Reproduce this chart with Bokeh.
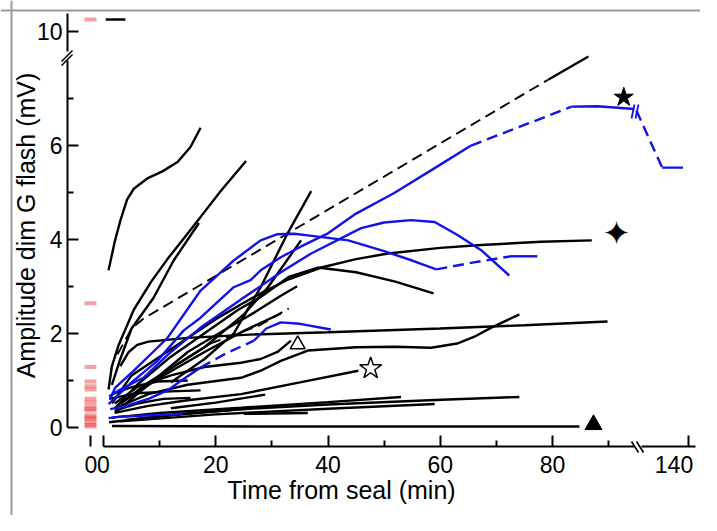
import math
from bokeh.plotting import figure
from bokeh.models import LinearAxis, FixedTicker, Range1d, Span
from bokeh.embed import file_html
from bokeh.resources import INLINE
from bokeh.core.properties import value

# ---------------- data (real units: minutes, mV) ----------------
# black recordings (solid parts)
k1_x = [0.9, 2.0, 3.0, 4.2, 5.4, 7.8, 10.5, 13.2, 15.5, 17.3]
k1_y = [3.34, 3.95, 4.4, 4.85, 5.08, 5.3, 5.45, 5.65, 5.97, 6.38]
k2_x = [0.9, 1.5, 2.7, 5.4, 8.5, 11.4, 14.5, 17.3, 21.0, 25.4]
k2_y = [0.8, 1.3, 1.75, 2.5, 3.1, 3.58, 4.05, 4.48, 5.05, 5.67]
k3_x = [1.5, 3.0, 5.0, 8.9, 12.5, 17.0]
k3_y = [0.9, 1.45, 2.1, 2.75, 3.55, 4.35]
k4_x = [12, 18, 23.2, 28, 32.8, 37]
k4_y = [0.95, 1.45, 1.99, 2.98, 4.13, 5.03]
k5_x = [10, 18, 25, 29.3, 35.2]
k5_y = [1.1, 1.7, 2.4, 2.98, 3.98]
k6_dash_x = [2.5, 5, 7.1, 79.3]
k6_dash_y = [1.55, 2.1, 2.31, 7.41]
k6_x = [79.3, 86.4]
k6_y = [7.41, 7.9]
k7_x = [1.5, 5, 10, 15, 20, 25, 28, 33, 38.8, 45, 50.7, 60, 67.3, 78, 87]
k7_y = [0.5, 1.1, 1.5, 1.9, 2.3, 2.65, 2.85, 3.15, 3.4, 3.58, 3.7, 3.82, 3.88, 3.95, 3.98]
k8_x = [2, 6, 12, 18, 24, 28, 33, 38.2, 45, 52, 58.8]
k8_y = [0.4, 0.9, 1.5, 2.0, 2.5, 2.77, 3.2, 3.4, 3.3, 3.1, 2.85]
k9_x = [3, 4.5, 6, 8, 15, 26, 40, 60, 75, 89.8]
k9_y = [1.3, 1.6, 1.75, 1.82, 1.9, 1.97, 2.02, 2.1, 2.17, 2.25]
k10_x = [2, 8, 15, 24.5, 28, 31.6, 36.4, 45, 52, 58.4, 63, 66, 69.1, 74.1]
k10_y = [0.4, 0.7, 0.9, 1.05, 1.2, 1.41, 1.63, 1.7, 1.71, 1.69, 1.78, 1.92, 2.12, 2.4]
k11_x = [2, 6, 12, 18, 24.5, 28, 31, 33.4]
k11_y = [0.5, 0.85, 1.1, 1.28, 1.37, 1.45, 1.6, 1.84]
k12_x = [2, 8, 15, 24.5, 35, 45.4]
k12_y = [0.3, 0.45, 0.57, 0.7, 0.95, 1.2]
k13_x = [12, 20, 28.8]
k13_y = [0.4, 0.52, 0.69]
k14_x = [1.5, 10, 24.5, 40, 53]
k14_y = [0.2, 0.3, 0.41, 0.53, 0.64]
k15_x = [1, 12, 24.5, 40, 60.2, 74.1]
k15_y = [0.1, 0.25, 0.38, 0.48, 0.58, 0.64]
k16_x = [25, 36.4]
k16_y = [0.28, 0.3]
k17_x = [3, 20, 40, 59]
k17_y = [0.12, 0.27, 0.39, 0.49]
k18_x = [1.5, 30, 60, 84.8]
k18_y = [0.02, 0.01, 0.01, 0.01]
k19_x = [3, 8, 14, 19]
k19_y = [0.5, 0.95, 1.4, 1.78]
k19_dash_x = [19, 27.7, 33]
k19_dash_y = [1.78, 2.16, 2.53]
k20_x = [1, 6, 12, 17.3]
k20_y = [0.6, 0.72, 0.76, 0.78]
k21_x = [1.5, 5, 9.6, 15]
k21_y = [0.7, 0.85, 0.97, 0.99]
k22_x = [2, 6, 10.7, 15.5]
k22_y = [0.35, 0.5, 0.6, 0.62]
k23_x = [4, 14, 22, 26.2]
k23_y = [0.15, 0.28, 0.35, 0.4]
k24_x = [2, 8, 15, 22, 27, 31.6, 34.5]
k24_y = [0.3, 0.9, 1.6, 2.1, 2.45, 2.8, 3.0]
k25_x = [3, 10, 18, 25, 31.6]
k25_y = [0.5, 1.05, 1.6, 2.05, 2.42]
k_top_x = [0.4, 3.9]
k_top_y = [10.25, 10.25]

black_solid = [(k1_x, k1_y), (k2_x, k2_y), (k3_x, k3_y), (k4_x, k4_y), (k5_x, k5_y),
               (k6_x, k6_y), (k7_x, k7_y), (k8_x, k8_y), (k9_x, k9_y), (k10_x, k10_y),
               (k11_x, k11_y), (k12_x, k12_y), (k13_x, k13_y), (k14_x, k14_y),
               (k15_x, k15_y), (k16_x, k16_y), (k17_x, k17_y), (k18_x, k18_y),
               (k19_x, k19_y), (k20_x, k20_y), (k21_x, k21_y), (k22_x, k22_y),
               (k23_x, k23_y), (k24_x, k24_y), (k25_x, k25_y), (k_top_x, k_top_y)]
black_dashed = [(k6_dash_x, k6_dash_y), (k19_dash_x, k19_dash_y)]

# blue recordings
b1_x = [0.9, 5, 9.6, 14.3, 17.3, 23.2, 26.2, 28, 31.6, 35.2, 40, 45, 51.8, 59, 65.5]
b1_y = [0.49, 0.95, 1.41, 2.06, 2.33, 2.98, 3.13, 3.34, 3.62, 3.85, 4.13, 4.55, 4.99, 5.52, 6.0]
b1_dash_x = [65.5, 83.4]
b1_dash_y = [6.0, 6.83]
b1b_x = [83.4, 88, 94.6]
b1b_y = [6.83, 6.84, 6.78]
b1_late_dash_x = [130.7, 135.3]
b1_late_dash_y = [6.75, 5.53]
b1_late_x = [135.3, 139.0]
b1_late_y = [5.53, 5.53]
b2_x = [1.2, 2.1, 5.4, 9.6, 11.4, 17.3, 20, 23.2, 28, 31, 34, 37.5, 43.6, 50, 55, 59.3]
b2_y = [0.6, 0.84, 1.2, 1.69, 1.9, 2.91, 3.2, 3.55, 3.98, 4.11, 4.12, 4.07, 3.98, 3.75, 3.55, 3.36]
b2_dash_x = [59.3, 66, 72.6]
b2_dash_y = [3.36, 3.51, 3.64]
b2b_x = [72.6, 77.3]
b2b_y = [3.64, 3.64]
b3_x = [1.0, 3.0, 7.1, 12, 17.3, 25, 31.6, 37, 45.9, 50, 54.8, 59, 63, 67.3, 72.3]
b3_y = [0.65, 0.8, 1.05, 1.6, 2.12, 2.76, 3.3, 3.7, 4.24, 4.36, 4.41, 4.37, 4.1, 3.77, 3.23]
b4_x = [1.2, 4, 8, 11.4, 14, 17.3]
b4_y = [0.38, 0.45, 0.6, 0.78, 1.0, 1.27]
b4_dash_x = [17.3, 22, 26.8]
b4_dash_y = [1.27, 1.58, 1.84]
b4b_x = [26.8, 29, 31.6, 35, 40.5]
b4b_y = [1.84, 2.1, 2.23, 2.2, 2.08]
b5_x = [0.9, 3, 8.4, 14.1]
b5_y = [0.19, 0.22, 0.25, 0.28]

blue_solid = [(b1_x, b1_y), (b1b_x, b1b_y), (b1_late_x, b1_late_y), (b2_x, b2_y),
              (b2b_x, b2b_y), (b3_x, b3_y), (b4_x, b4_y), (b4b_x, b4b_y), (b5_x, b5_y)]
blue_dashed = [(b1_dash_x, b1_dash_y), (b1_late_dash_x, b1_late_dash_y),
               (b2_dash_x, b2_dash_y), (b4_dash_x, b4_dash_y)]

# amplitudes at time 0 (red marks)
red_y = [10.25, 2.64, 1.28, 0.97, 0.87, 0.80, 0.60, 0.53, 0.44, 0.39, 0.35,
         0.25, 0.20, 0.17, 0.10, 0.05, 0.01]

# end-point symbols
star_x, star_y = [92.7], [7.03]
star4_x, star4_y = [91.4], [4.13]
otri_x, otri_y = [34.6], [1.76]
ostar_x, ostar_y = [47.6], [1.25]
ftri_x, ftri_y = [87.3], [0.05]

# axis ticks
x_major = [0, 20, 40, 60, 80]
x_minor = [10, 30, 50, 70, 90]
y_major = [0, 2, 4, 6]
y_minor = [1, 3, 5, 7]

# ---------------- broken-axis mapping ----------------
X_SHIFT = 140 - 104.25   # real 140 min drawn at 104.25
Y_SHIFT = 10 - 8.4375    # real 10 mV drawn at 8.4375


def fx(xs):
    return [x - X_SHIFT if x > 100 else x for x in xs]


def fy(ys):
    return [y - Y_SHIFT if y > 9 else y for y in ys]


# pixel helpers (window px -> data), scale: 5.6125 px/min, 46.9 px/mV
X0, XS = 103.0, 5.6125
Y0, YS = 426.5, 46.9
W, H = 700, 515


def px(v):
    return (v - X0) / XS


def py(v):
    return (Y0 - v) / YS


p = figure(width=W, height=H,
           x_range=Range1d(px(0), px(W)), y_range=Range1d(py(H), py(0)),
           output_backend="svg", toolbar_location=None,
           x_axis_location=None, y_axis_location=None, min_border=0,
           outline_line_color=None, background_fill_color="white")
p.grid.visible = False

FONT = "Liberation Sans"


def style(ax, standoff):
    ax.axis_line_width = 2
    ax.axis_line_color = "black"
    ax.major_tick_line_width = 2
    ax.minor_tick_line_width = 2
    ax.major_tick_in = 11
    ax.major_tick_out = 0
    ax.minor_tick_in = 6
    ax.minor_tick_out = 0
    ax.major_label_text_font = FONT
    ax.major_label_text_font_size = "23px"
    ax.major_label_text_color = "black"
    ax.major_label_standoff = standoff


YAX = px(67)
XAX = py(446)

ay1 = LinearAxis(fixed_location=YAX, bounds=(0, py(60)),
                 ticker=FixedTicker(ticks=y_major, minor_ticks=y_minor))
style(ay1, 5)
ay2 = LinearAxis(fixed_location=YAX, bounds=(py(51), py(13)),
                 ticker=FixedTicker(ticks=[8.4375], minor_ticks=[]))
style(ay2, 5)
ay2.major_label_overrides = {8.4375: "10"}
p.add_layout(ay1, "left")
p.add_layout(ay2, "left")

ax1 = LinearAxis(fixed_location=XAX, bounds=(0, px(634)),
                 ticker=FixedTicker(ticks=x_major, minor_ticks=x_minor))
style(ax1, 9)
ax0 = LinearAxis(fixed_location=XAX, bounds=(-2.3, -2.2),
                 ticker=FixedTicker(ticks=[-2.25], minor_ticks=[]))
style(ax0, 9)
ax0.axis_line_color = None
ax0.major_label_overrides = {-2.25: "0"}
ax2 = LinearAxis(fixed_location=XAX, bounds=(px(641), px(695)),
                 ticker=FixedTicker(ticks=[104.25], minor_ticks=[]))
style(ax2, 9)
ax2.major_label_overrides = {104.25: "140"}
for a in (ax1, ax0, ax2):
    p.add_layout(a, "below")

# axis break marks
brk = dict(line_color="black", line_width=1.6)
p.segment(x0=[px(61), px(61)], y0=[py(61), py(65)], x1=[px(72), px(72)], y1=[py(50), py(54)], **brk)
p.segment(x0=[px(631), px(636)], y0=[py(441), py(441)], x1=[px(638), px(643)], y1=[py(452), py(452)], **brk)

# red marks at time 0
RED = "#e82020"
n = len(red_y)
p.segment(x0=[px(84)] * n, y0=fy(red_y), x1=[px(96)] * n, y1=fy(red_y),
          line_color=RED, line_alpha=0.42, line_width=4)

BLACK = "black"
BLUE = "#1212e8"
LW = 2.4
for xs, ys in black_solid:
    p.line(fx(xs), fy(ys), line_color=BLACK, line_width=LW)
for xs, ys in black_dashed:
    p.line(fx(xs), fy(ys), line_color=BLACK, line_width=1.9, line_dash="11 6")
for xs, ys in blue_solid:
    p.line(fx(xs), fy(ys), line_color=BLUE, line_width=LW)
for xs, ys in blue_dashed:
    p.line(fx(xs), fy(ys), line_color=BLUE, line_width=LW, line_dash="11 6")

# break marks on the long blue recording
p.segment(x0=[px(631), px(635)], y0=[py(118), py(118)], x1=[px(634), px(638)], y1=[py(104), py(104)],
          line_color=BLUE, line_width=1.8)

# symbols
p.scatter(star_x, star_y, marker="star", size=20, fill_color="black", line_color="black")
p.scatter(ftri_x, ftri_y, marker="triangle", size=17, fill_color="black", line_color="black")
p.scatter(otri_x, otri_y, marker="triangle", size=15, fill_color=None, line_color="black", line_width=1.5)
p.scatter(ostar_x, ostar_y, marker="star", size=23, fill_color=None, line_color="black", line_width=1.5)
p.text(star4_x, star4_y, text=["\u2726"], text_font=value("DejaVu Sans"), text_font_size="34px",
       text_align="center", text_baseline="middle", text_color="black")

# axis titles
p.text([px(341)], [py(489)], text=["Time from seal (min)"], text_font=value(FONT),
       text_font_size="25px", text_align="center", text_baseline="middle", text_color="black")
p.text([px(25)], [py(225)], text=["Amplitude dim G flash (mV)"], text_font=value(FONT),
       text_font_size="25px", text_align="center", text_baseline="middle", text_color="black",
       angle=math.pi / 2)

# grey frame (top and left edges)
p.add_layout(Span(location=py(10), dimension="width", line_color="#999999", line_width=2))
p.add_layout(Span(location=px(11), dimension="height", line_color="#999999", line_width=2))

open("out.html", "w").write(file_html(p, INLINE))
